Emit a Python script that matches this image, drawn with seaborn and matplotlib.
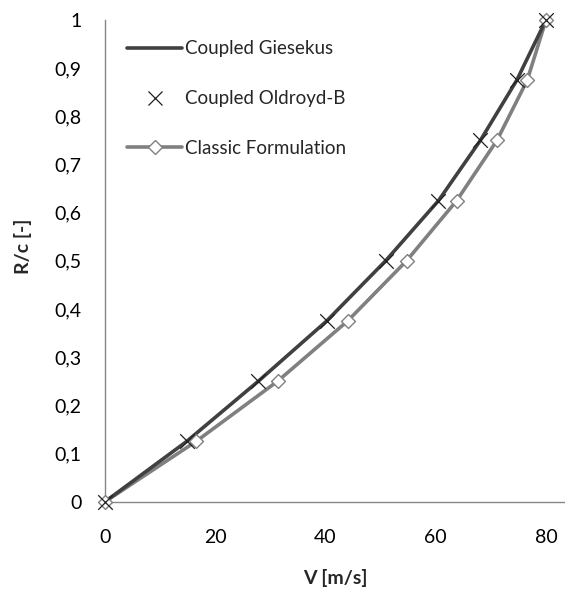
import numpy as np
import pandas as pd
import matplotlib
matplotlib.use("Agg")
import matplotlib.pyplot as plt
import seaborn as sns
from matplotlib.lines import Line2D
from matplotlib.ticker import MultipleLocator, FuncFormatter

# ---- data ----
r_over_c = [0, 0.125, 0.25, 0.375, 0.5, 0.625, 0.75, 0.875, 1.0]
v_giesekus = [0, 14.8, 27.8, 40.2, 50.9, 60.5, 68.1, 74.7, 80]
v_oldroyd = [0, 14.8, 27.8, 40.2, 50.9, 60.5, 68.1, 74.7, 80]
v_classic = [0, 16.5, 31.3, 44.0, 54.7, 63.8, 71.1, 76.6, 80]
x_ticks = [0, 20, 40, 60, 80]
y_ticks = [0, 0.1, 0.2, 0.3, 0.4, 0.5, 0.6, 0.7, 0.8, 0.9, 1.0]
labels = ["Coupled Giesekus", "Coupled Oldroyd-B", "Classic Formulation"]

sns.set_style("white")
plt.rcParams['font.family'] = ['Lato', 'DejaVu Sans']

dark = "#404040"
light = "#808080"
axis_col = "#868686"

fig = plt.figure(figsize=(5.65, 5.98), dpi=100)
ax = fig.add_axes([105 / 565, (598 - 501.7) / 598, 460 / 565, (501.7 - 20) / 598])

df_g = pd.DataFrame({"V": v_giesekus, "R": r_over_c})
df_o = pd.DataFrame({"V": v_oldroyd, "R": r_over_c})
df_c = pd.DataFrame({"V": v_classic, "R": r_over_c})

sns.lineplot(data=df_c, x="V", y="R", sort=False, estimator=None, color=light,
             linewidth=2.6, ax=ax, zorder=2)
sns.lineplot(data=df_g, x="V", y="R", sort=False, estimator=None, color=dark,
             linewidth=2.6, ax=ax, zorder=3)
sns.scatterplot(data=df_c, x="V", y="R", marker="D", s=50, facecolor="white",
                edgecolor=light, linewidth=1.0, ax=ax, zorder=4, clip_on=False)
sns.scatterplot(data=df_o, x="V", y="R", marker="x", s=110, color="#202020",
                linewidth=0.9, ax=ax, zorder=5, clip_on=False)

ax.set_xlim(0, 83.45)
ax.set_ylim(0, 1)

ax.xaxis.set_minor_locator(MultipleLocator(4))
ax.yaxis.set_minor_locator(MultipleLocator(0.02))
ax.set_xticks(x_ticks)
ax.set_yticks(y_ticks)

def fmt(v, pos):
    s = ("%.1f" % v).rstrip("0").rstrip(".")
    return s.replace(".", ",")

ax.xaxis.set_major_formatter(FuncFormatter(fmt))
ax.yaxis.set_major_formatter(FuncFormatter(fmt))

for side in ["top", "right"]:
    ax.spines[side].set_visible(False)
for side in ["left", "bottom"]:
    ax.spines[side].set_color(axis_col)
    ax.spines[side].set_linewidth(1.0)

ax.tick_params(axis="x", which="major", direction="in", length=7, width=1,
               color=axis_col, labelsize=14, pad=20, labelcolor="#000000")
ax.tick_params(axis="x", which="minor", direction="in", length=5, width=1,
               color=axis_col)
ax.tick_params(axis="y", which="both", direction="in", length=5.5, width=1,
               color=axis_col, labelsize=14, pad=17, labelcolor="#000000")

ax.set_xlabel("V [m/s]", fontsize=14, fontweight="bold", labelpad=16)
ax.set_ylabel("R/c [-]", fontsize=14, fontweight="bold")
ax.yaxis.set_label_coords(-0.158, 0.53)

handles = [
    Line2D([], [], color=dark, linewidth=2.6),
    Line2D([], [], color="#202020", linestyle="none", marker="x",
           markersize=10, markeredgewidth=0.9),
    Line2D([], [], color=light, linewidth=2.6, marker="D", markersize=7.5,
           markerfacecolor="white", markeredgecolor=light, markeredgewidth=1.0),
]
ax.legend(handles, labels, loc="upper left", bbox_to_anchor=(0.02, 0.985),
          frameon=False, fontsize=13.5, handlelength=2.9, handletextpad=0.2,
          labelspacing=1.75, borderaxespad=0.3)

fig.savefig("out.png", dpi=100)
